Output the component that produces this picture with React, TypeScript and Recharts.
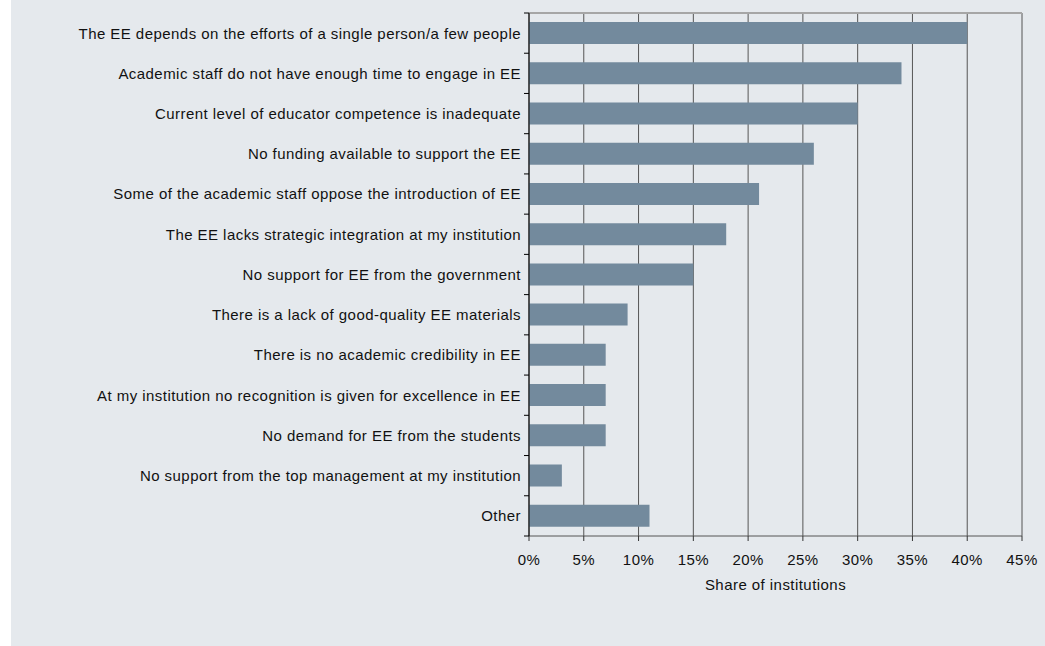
import React from 'react';
import { BarChart, Bar, XAxis, YAxis, CartesianGrid } from 'recharts';

const reasons = [
  'The EE depends on the efforts of a single person/a few people',
  'Academic staff do not have enough time to engage in EE',
  'Current level of educator competence is inadequate',
  'No funding available to support the EE',
  'Some of the academic staff oppose the introduction of EE',
  'The EE lacks strategic integration at my institution',
  'No support for EE from the government',
  'There is a lack of good-quality EE materials',
  'There is no academic credibility in EE',
  'At my institution no recognition is given for excellence in EE',
  'No demand for EE from the students',
  'No support from the top management at my institution',
  'Other',
];
const shares = [40, 34, 30, 26, 21, 18, 15, 9, 7, 7, 7, 3, 11];
const xTicks = [0, 5, 10, 15, 20, 25, 30, 35, 40, 45];

const data = reasons.map((r, i) => ({ reason: r, share: shares[i] }));

const W = 1034;
const H = 646;
const margin = { top: 13, right: 23, bottom: 50, left: 0 };
const yAxisW = 518;
const plotLeft = margin.left + yAxisW;
const font = '"Liberation Sans", Arial, sans-serif';
const spacing = '0.45px';

function CatTick(props: any) {
  const { y, payload, index } = props;
  const off = payload?.offset ?? (H - margin.top - margin.bottom - 60) / reasons.length / 2;
  return (
    <g>
      <line x1={plotLeft - 5} x2={plotLeft} y1={y - off} y2={y - off} stroke="#000" />
      {index === reasons.length - 1 && (
        <line x1={plotLeft - 5} x2={plotLeft} y1={y + off} y2={y + off} stroke="#000" />
      )}
      <text
        x={plotLeft - 8}
        y={y}
        dy="0.36em"
        textAnchor="end"
        fontSize={15}
        fill="#111"
        fontFamily={font}
        style={{ letterSpacing: spacing }}
      >
        {payload.value}
      </text>
    </g>
  );
}

export default function App() {
  return (
    <div style={{ position: 'absolute', left: 0, top: 0, width: 1045, height: 646, background: '#fff' }}>
      <div style={{ position: 'absolute', left: 11, top: 0, width: W, height: H, background: '#e5e9ed' }}>
        <BarChart width={W} height={H} data={data} layout="vertical" margin={margin}>
          <CartesianGrid horizontal={false} vertical stroke="#555" />
          <CartesianGrid
            vertical={false}
            horizontal
            horizontalCoordinatesGenerator={({ offset }: any) => [offset.top]}
            stroke="#a6a6a6"
            strokeWidth={2}
          />
          <XAxis
            type="number"
            domain={[0, 45]}
            ticks={xTicks}
            tickFormatter={(v) => `${v}%`}
            tickSize={5}
            tickMargin={13}
            height={60}
            interval={0}
            axisLine={{ stroke: '#555' }}
            tickLine={{ stroke: '#333' }}
            tick={{ fontSize: 15, fill: '#111', fontFamily: font, style: { letterSpacing: spacing } }}
            label={{
              value: 'Share of institutions',
              position: 'insideBottom',
              offset: 6,
              fontSize: 15,
              fill: '#111',
              fontFamily: font,
              style: { letterSpacing: spacing },
            }}
          />
          <YAxis
            type="category"
            dataKey="reason"
            width={yAxisW}
            tickLine={false}
            axisLine={{ stroke: '#000' }}
            interval={0}
            tick={<CatTick />}
          />
          <Bar dataKey="share" fill="#738a9d" barSize={22} isAnimationActive={false} />
        </BarChart>
      </div>
    </div>
  );
}
